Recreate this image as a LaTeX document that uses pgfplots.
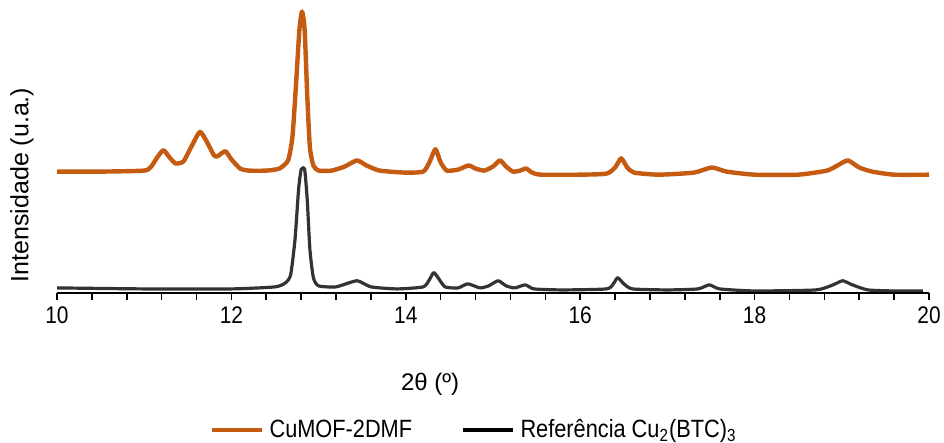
\documentclass[border=0pt]{standalone}
\usepackage{fontspec}
\setmainfont{Liberation Sans}[FakeStretch=0.87]
\newfontfamily\plainsans{Liberation Sans}
\usepackage{pgfplots}
\pgfplotsset{compat=1.18}
\definecolor{cuorange}{RGB}{197,90,17}

\begin{document}
\begin{tikzpicture}
\path[use as bounding box] (-28.5pt,-75pt) rectangle (443.5pt,146.5pt);
\begin{axis}[
    scale only axis,
    width=436pt, height=141.5pt,
    at={(0,0)}, anchor=origin,
    xmin=10, xmax=20, ymin=7, ymax=290,
    axis x line*=bottom, axis y line=none,
    xtick={10,12,...,20},
    minor x tick num=4,
    tick align=outside,
    major tick length=3.5pt, minor tick length=3.5pt,
    every tick/.style={black, line width=0.8pt},
    axis line style={black, line width=1pt},
    ticklabel style={font=\fontsize{12}{14}\selectfont},
    /pgf/number format/assume math mode=true,
    xlabel={2θ (º)},
    xlabel style={font=\plainsans\fontsize{12}{14}\selectfont, at={(axis description cs:0.428,-0.318)}, anchor=center},
    legend style={draw=none, fill=none, at={(axis description cs:0.478,-0.475)}, anchor=center,
        font=\fontsize{12.5}{14}\selectfont, column sep=2pt, inner sep=0pt,
        nodes={inner sep=0.5pt}},
    legend columns=2,
    /tikz/every even column/.append style={column sep=24pt},
    legend image code/.code={\draw[#1] (0pt,0pt) -- (25pt,0pt);},
]
\addplot[cuorange, line width=2.2pt, line join=round, smooth, tension=0.35] coordinates {
(10.0,126) (10.5,126) (11.0,127) (11.08,131) (11.15,140) (11.22,147) (11.29,140)
(11.36,134) (11.45,136) (11.55,152) (11.64,165) (11.72,155) (11.80,142) (11.84,141)
(11.93,146) (12.0,138) (12.1,129) (12.2,127) (12.4,127) (12.55,129) (12.65,137)
(12.70,160) (12.74,210) (12.78,265) (12.81,283) (12.84,265) (12.87,200) (12.90,150)
(12.94,132) (13.0,127) (13.15,127) (13.3,131) (13.44,137) (13.55,132) (13.70,127)
(14.0,125) (14.2,126) (14.27,135) (14.34,148) (14.40,135) (14.47,127) (14.6,128)
(14.72,132) (14.8,129) (14.9,127) (15.0,131) (15.08,137) (15.15,131) (15.23,126)
(15.31,127) (15.38,129) (15.45,125) (15.55,123) (16.0,123) (16.3,124) (16.4,130)
(16.47,139) (16.54,130) (16.62,125) (16.9,123) (17.3,125) (17.51,130) (17.68,126)
(18.0,123) (18.5,123) (18.83,127) (18.95,132) (19.07,137) (19.2,130) (19.35,126)
(19.6,123) (20.0,123)
};
\addlegendentry{CuMOF-2DMF}
\addplot[black, line width=1.6pt, opacity=0.8, line join=round, smooth, tension=0.35,
    legend image post style={line width=2.2pt, opacity=1}] coordinates {
(10.0,12) (11.0,11) (12.0,11) (12.5,13) (12.62,17) (12.68,25) (12.73,60) (12.77,108)
(12.80,128) (12.84,128) (12.87,98) (12.90,50) (12.94,22) (13.0,14) (13.2,13)
(13.44,19) (13.6,13) (13.9,11) (14.2,13) (14.27,20) (14.32,27) (14.37,22) (14.45,13)
(14.6,12) (14.71,16) (14.85,12) (14.95,14) (15.06,19) (15.15,14) (15.25,12)
(15.37,15) (15.47,11) (15.8,10) (16.3,11) (16.38,16) (16.43,22) (16.5,16) (16.6,11)
(17.0,10) (17.35,11) (17.48,15) (17.6,11) (18.0,9) (18.7,10) (18.9,15) (19.01,19)
(19.12,15) (19.3,10) (19.6,9) (19.93,9)
};
\addlegendentry{Referência Cu\textsubscript{2}(BTC)\textsubscript{3}}
\end{axis}
\node[rotate=90, anchor=center, font=\plainsans\fontsize{12.5}{14}\selectfont] at (-17.5pt,54pt) {Intensidade (u.a.)};
\end{tikzpicture}
\end{document}
